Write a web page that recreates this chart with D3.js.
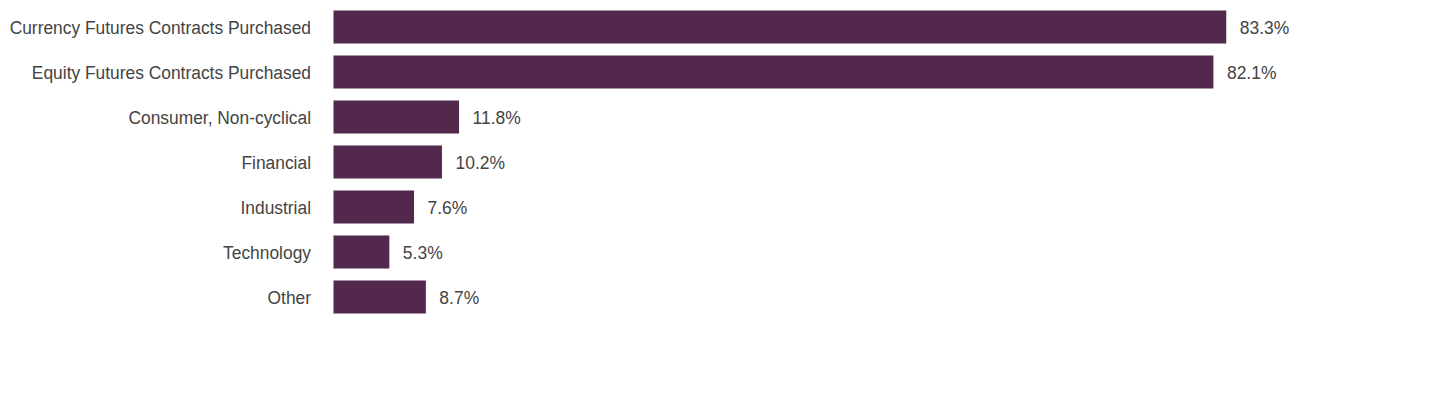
<!DOCTYPE html>
<html>
<head>
<meta charset="utf-8">
<script src="https://cdn.jsdelivr.net/npm/d3@7"></script>
<style>
  html, body { margin: 0; padding: 0; background: #fff; }
  svg text { font-family: "Liberation Sans", Arial, sans-serif; }
</style>
</head>
<body>
<svg id="chart" width="1440" height="408"></svg>
<script>
const categories = [
  "Currency Futures Contracts Purchased",
  "Equity Futures Contracts Purchased",
  "Consumer, Non-cyclical",
  "Financial",
  "Industrial",
  "Technology",
  "Other"
];
const values = [83.3, 82.1, 11.8, 10.2, 7.6, 5.3, 8.7];

const barColor = "#52284d";
const textColor = "#444444";

const svg = d3.select("#chart");

const x = d3.scaleLinear()
  .domain([0, 100])
  .range([333, 1406]);

const y = d3.scaleBand()
  .domain(categories)
  .range([4.5, 319.5])
  .paddingInner(0.244)
  .paddingOuter(0.122);

const rows = svg.append("g").selectAll("g")
  .data(categories.map((c, i) => ({ name: c, value: values[i] })))
  .join("g");

rows.append("rect")
  .attr("x", x(0))
  .attr("y", d => y(d.name))
  .attr("width", d => x(d.value) - x(0))
  .attr("height", y.bandwidth())
  .attr("fill", barColor)
  .attr("stroke", "#fff")
  .attr("stroke-width", 1);

// condensed look: regular sans squeezed horizontally
rows.append("text")
  .attr("transform", d => `translate(${x(0) - 22},${y(d.name) + y.bandwidth() / 2}) scale(0.915,1)`)
  .attr("dy", "0.36em")
  .attr("text-anchor", "end")
  .attr("fill", textColor)
  .style("font-size", "19px")
  .text(d => d.name);

rows.append("text")
  .attr("transform", d => `translate(${x(d.value) + 13},${y(d.name) + y.bandwidth() / 2}) scale(0.92,1)`)
  .attr("dy", "0.36em")
  .attr("fill", textColor)
  .style("font-size", "19px")
  .text(d => d.value.toFixed(1) + "%");
</script>
</body>
</html>
